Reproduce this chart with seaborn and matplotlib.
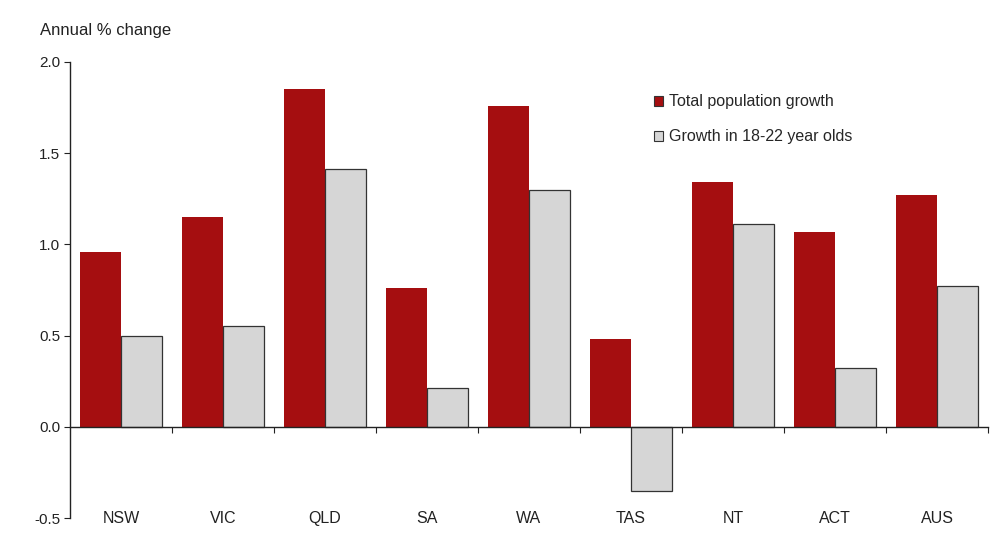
import matplotlib
matplotlib.use("Agg")
import matplotlib.pyplot as plt
from matplotlib.ticker import FixedLocator
import seaborn as sns
import pandas as pd

states = ["NSW", "VIC", "QLD", "SA", "WA", "TAS", "NT", "ACT", "AUS"]
total_growth = [0.96, 1.15, 1.85, 0.76, 1.76, 0.48, 1.34, 1.07, 1.27]
youth_growth = [0.50, 0.55, 1.41, 0.21, 1.30, -0.35, 1.11, 0.32, 0.77]
series_names = ["Total population growth", "Growth in 18-22 year olds"]
y_ticks = [-0.5, 0.0, 0.5, 1.0, 1.5, 2.0]

df = pd.DataFrame({
    "state": states * 2,
    "value": total_growth + youth_growth,
    "series": [series_names[0]] * len(states) + [series_names[1]] * len(states),
})

sns.set_theme(style="white")
plt.rcParams["font.family"] = ["Liberation Sans", "DejaVu Sans"]

fig = plt.figure(figsize=(9.99, 5.57), dpi=100)
ax = fig.add_axes([0.070, 0.070, 0.919, 0.819])

palette = {series_names[0]: "#A50E10", series_names[1]: "#D6D6D6"}
sns.barplot(data=df, x="state", y="value", hue="series", order=states,
            hue_order=series_names, palette=palette, width=0.8,
            saturation=1, ax=ax, legend=True)

# outline the grey bars
for patch in ax.containers[1]:
    patch.set_edgecolor("#333333")
    patch.set_linewidth(0.9)
for patch in ax.containers[0]:
    patch.set_linewidth(0)

ax.set_ylim(-0.5, 2.0)
ax.set_xlim(-0.5, len(states) - 0.5)
ax.set_yticks(y_ticks)
ax.set_yticklabels([f"{v:.1f}" for v in y_ticks], fontsize=11, color="#222222")
ax.set_xlabel("")
ax.set_ylabel("")

for side in ["top", "right"]:
    ax.spines[side].set_visible(False)
ax.spines["left"].set_color("#222222")
ax.spines["left"].set_linewidth(1.0)
ax.spines["bottom"].set_position(("data", 0))
ax.spines["bottom"].set_color("#222222")
ax.spines["bottom"].set_linewidth(1.0)

ax.tick_params(axis="y", which="major", direction="out", length=4, width=0.8,
               color="#222222", left=True, pad=3)
# category labels sit along the bottom; boundary ticks hang off the zero line
ax.tick_params(axis="x", which="major", length=0, pad=61, labelsize=11.5,
               labelcolor="#222222")
ax.xaxis.set_minor_locator(FixedLocator([i + 0.5 for i in range(len(states))]))
ax.tick_params(axis="x", which="minor", direction="out", length=4, width=0.8,
               color="#222222", bottom=True)

leg = ax.legend(loc="upper left", bbox_to_anchor=(0.62, 0.96), frameon=False,
                fontsize=11.5, handlelength=0.6, handleheight=0.6,
                handletextpad=0.4, labelspacing=1.25)
for h in leg.legend_handles:
    h.set_edgecolor("#333333")
    h.set_linewidth(0.8)

fig.text(0.040, 0.945, "Annual % change", fontsize=12, color="#222222",
         ha="left", va="center")

fig.savefig("out.png", dpi=100, facecolor="white")
